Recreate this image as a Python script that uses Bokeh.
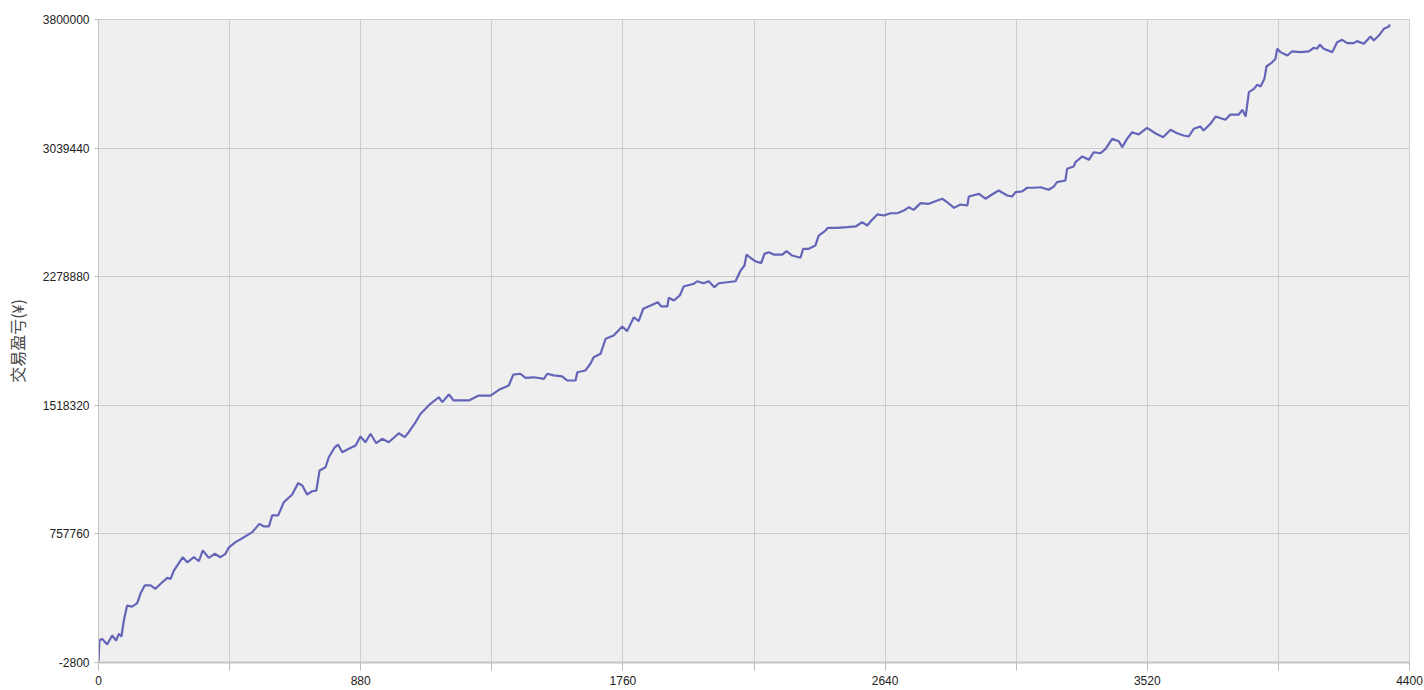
from bokeh.plotting import figure
from bokeh.models import FixedTicker, Range1d
from bokeh.embed import file_html
from bokeh.resources import INLINE

# trade index
trade_x = [0, 3, 12, 29, 46, 59, 68, 77, 85, 96, 113, 130, 141, 155, 175, 191, 214, 231, 242, 253,
           283, 298, 320, 337, 350, 370, 390, 409, 426, 437, 460, 488, 516, 540, 555, 572, 583, 603,
           622, 650, 670, 684, 700, 717, 731, 742, 762, 773, 793, 804, 818, 840, 863, 879, 896, 913,
           932, 952, 974, 1008, 1028, 1041, 1064, 1081, 1092, 1114, 1142, 1154, 1176, 1192, 1243,
           1276, 1316, 1344, 1377, 1392, 1416, 1433, 1461, 1495, 1506, 1528, 1556, 1573, 1601, 1607,
           1634, 1651, 1662, 1685, 1702, 1729, 1758, 1774, 1797, 1813, 1828, 1853, 1877, 1889, 1909,
           1914, 1931, 1951, 1964, 1998, 2009, 2031, 2048, 2067, 2082, 2110, 2138, 2155, 2168, 2175,
           2188, 2205, 2224, 2235, 2250, 2266, 2295, 2309, 2328, 2356, 2365, 2384, 2406, 2417, 2440,
           2448, 2479, 2513, 2541, 2563, 2580, 2594, 2614, 2636, 2658, 2681, 2703, 2720, 2736, 2759,
           2787, 2809, 2832, 2849, 2871, 2893, 2916, 2921, 2955, 2977, 2999, 3021, 3050, 3066, 3078,
           3100, 3117, 3139, 3162, 3189, 3206, 3217, 3245, 3251, 3273, 3279, 3302, 3324, 3340, 3363,
           3380, 3402, 3424, 3436, 3452, 3469, 3491, 3519, 3547, 3573, 3598, 3620, 3642, 3659, 3676,
           3698, 3709, 3732, 3749, 3782, 3799, 3827, 3839, 3850, 3861, 3878, 3889, 3900, 3913, 3920,
           3939, 3950, 3956, 3967, 3990, 4006, 4034, 4062, 4079, 4090, 4099, 4112, 4141, 4157, 4174,
           4191, 4213, 4224, 4247, 4269, 4280, 4297, 4314, 4331, 4334]

# cumulative profit/loss
pnl = [-2800, 127000, 137000, 104000, 157000, 127000, 167000, 151000, 246000, 334000, 328000, 348000,
       405000, 453000, 453000, 433000, 472000, 498000, 492000, 541000, 620000, 590000, 620000, 596000,
       660000, 616000, 640000, 620000, 640000, 676000, 709000, 738000, 768000, 817000, 802000, 802000,
       867000, 867000, 945000, 991000, 1058000, 1044000, 991000, 1010000, 1014000, 1133000, 1152000,
       1211000, 1270000, 1286000, 1241000, 1261000, 1281000, 1334000, 1300000, 1350000, 1294000,
       1320000, 1300000, 1353000, 1330000, 1359000, 1418000, 1468000, 1488000, 1527000, 1566000,
       1537000, 1582000, 1547000, 1547000, 1576000, 1576000, 1610000, 1635000, 1700000, 1705000,
       1681000, 1684000, 1675000, 1705000, 1695000, 1689000, 1665000, 1665000, 1714000, 1724000,
       1764000, 1803000, 1823000, 1912000, 1931000, 1984000, 1957000, 2039000, 2016000, 2089000,
       2108000, 2128000, 2103000, 2103000, 2154000, 2138000, 2168000, 2221000, 2237000, 2252000,
       2240000, 2252000, 2217000, 2240000, 2246000, 2252000, 2315000, 2345000, 2410000, 2391000,
       2370000, 2359000, 2414000, 2424000, 2410000, 2410000, 2430000, 2404000, 2391000, 2444000,
       2444000, 2463000, 2522000, 2552000, 2568000, 2568000, 2572000, 2576000, 2601000, 2582000,
       2611000, 2647000, 2641000, 2654000, 2654000, 2670000, 2690000, 2674000, 2714000, 2710000,
       2725000, 2740000, 2719000, 2686000, 2706000, 2700000, 2753000, 2769000, 2740000, 2765000,
       2789000, 2759000, 2753000, 2779000, 2784000, 2805000, 2805000, 2808000, 2793000, 2812000,
       2838000, 2848000, 2917000, 2931000, 2956000, 2990000, 2970000, 3015000, 3009000, 3035000,
       3094000, 3080000, 3045000, 3094000, 3133000, 3120000, 3159000, 3127000, 3104000, 3148000,
       3127000, 3114000, 3108000, 3154000, 3167000, 3143000, 3183000, 3226000, 3207000, 3238000,
       3238000, 3266000, 3226000, 3370000, 3390000, 3415000, 3404000, 3449000, 3522000, 3547000,
       3567000, 3627000, 3607000, 3587000, 3612000, 3607000, 3612000, 3633000, 3627000, 3652000,
       3627000, 3607000, 3666000, 3680000, 3660000, 3660000, 3672000, 3656000, 3699000, 3676000,
       3705000, 3745000, 3759000, 3770000]

x_ticks = [0, 440, 880, 1320, 1760, 2200, 2640, 3080, 3520, 3960, 4400]
x_labels = {0: "0", 880: "880", 1760: "1760", 2640: "2640", 3520: "3520", 4400: "4400"}
y_ticks = [-2800, 757760, 1518320, 2278880, 3039440, 3800000]
y_title = "交易盈亏(¥)"

p = figure(width=1424, height=690, output_backend="svg", toolbar_location=None,
           x_range=Range1d(0, 4400), y_range=Range1d(-2800, 3800000),
           min_border_left=98, min_border_right=15, min_border_top=19, min_border_bottom=28)

p.background_fill_color = "#EFEFEF"
p.border_fill_color = "white"
p.outline_line_color = "#CFCFCF"
p.outline_line_width = 1

p.line(trade_x, pnl, line_color="#6464B8", line_width=2.2)

p.xaxis.ticker = FixedTicker(ticks=x_ticks)
p.xaxis.major_label_overrides = {t: x_labels.get(t, "") for t in x_ticks}
p.yaxis.ticker = FixedTicker(ticks=y_ticks)
p.yaxis.major_label_overrides = {t: str(t) for t in y_ticks}

for ax in (p.xaxis[0], p.yaxis[0]):
    ax.minor_tick_line_color = None
    ax.major_tick_in = 0
    ax.major_tick_line_color = "#BBBBBB"
    ax.axis_line_color = "#C4C4C4"
    ax.major_label_text_font = "Liberation Sans"
    ax.major_label_text_font_size = "12px"
    ax.major_label_text_color = "#222222"

p.xaxis.major_tick_out = 8
p.xaxis.major_label_standoff = 5
p.xaxis.axis_line_width = 2
p.yaxis.major_tick_out = 4
p.yaxis.major_label_standoff = 5

p.yaxis.axis_label = y_title
p.yaxis.axis_label_text_font = "Noto Sans CJK SC"
p.yaxis.axis_label_text_font_size = "16px"
p.yaxis.axis_label_text_font_style = "normal"
p.yaxis.axis_label_text_color = "#444444"
p.yaxis.axis_label_standoff = 11

p.xgrid.ticker = FixedTicker(ticks=x_ticks)
p.ygrid.ticker = FixedTicker(ticks=y_ticks)
p.grid.grid_line_color = "#CCCCCC"
p.grid.grid_line_width = 1

open("out.html", "w").write(file_html(p, INLINE))
